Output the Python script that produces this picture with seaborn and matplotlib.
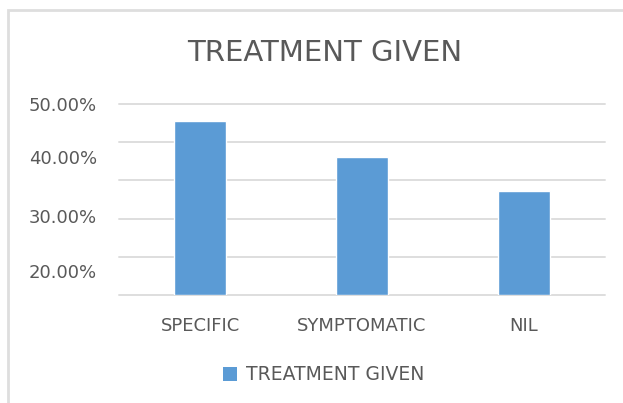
import matplotlib
matplotlib.use("Agg")
import matplotlib.pyplot as plt
import seaborn as sns
import pandas as pd
from matplotlib.patches import Rectangle, Patch

categories = ["SPECIFIC", "SYMPTOMATIC", "NIL"]
values = [0.455, 0.361, 0.272]
series_name = "TREATMENT GIVEN"
title = "TREATMENT GIVEN"
grid_values = [0.0, 0.1, 0.2, 0.3, 0.4, 0.5]
ylabel_texts = ["50.00%", "40.00%", "30.00%", "20.00%"]
ylabel_positions = [0.5, 0.361, 0.207, 0.063]

sns.set_theme(style="white")
plt.rcParams['font.family'] = ['DejaVu Sans']

BAR = "#5B9BD5"
TXT = "#595959"
GRID = "#dedede"

df = pd.DataFrame({"category": categories, "value": values})

fig = plt.figure(figsize=(6.23, 4.03), dpi=100)
ax = fig.add_axes([119/623, 108/403, 486/623, 191/403])

sns.barplot(data=df, x="category", y="value", color=BAR, width=0.315,
            saturation=1, ax=ax)

ax.yaxis.remove_overlapping_locs = False
ax.set_ylim(0, 0.5)
ax.set_xlim(-0.5, 2.5)
ax.set_yticks(grid_values)
ax.set_yticklabels([""] * len(grid_values))
ax.set_yticks(ylabel_positions, minor=True)
ax.set_yticklabels(ylabel_texts, minor=True)
ax.tick_params(axis="y", which="both", length=0)
ax.tick_params(axis="y", which="minor", pad=16, labelsize=13, labelcolor=TXT)
ax.tick_params(axis="x", length=0, pad=16, labelsize=13, labelcolor=TXT)
ax.yaxis.grid(True, which="major", color=GRID, linewidth=1.4)
ax.yaxis.grid(False, which="minor")
ax.set_axisbelow(True)
for gl in ax.get_ygridlines():
    gl.set_clip_on(False)
for s in ax.spines.values():
    s.set_visible(False)
ax.set_xlabel("")
ax.set_ylabel("")

fig.text(325/623, 1 - 53/403, title, ha="center", va="center",
         fontsize=21, color=TXT)

handle = Patch(facecolor=BAR, edgecolor="none")
fig.legend([handle], [series_name], loc="center left",
           bbox_to_anchor=(206/623, 1 - 375/403), frameon=False,
           fontsize=13.5, labelcolor=TXT, handlelength=0.75, handleheight=0.75,
           handletextpad=0.5)

fig.patches.append(Rectangle((8/623, -0.1), 1.2, (403 - 10)/403 + 0.1,
                             transform=fig.transFigure, fill=False,
                             edgecolor=GRID, linewidth=2, clip_on=False))

fig.savefig("out.png", dpi=100)
